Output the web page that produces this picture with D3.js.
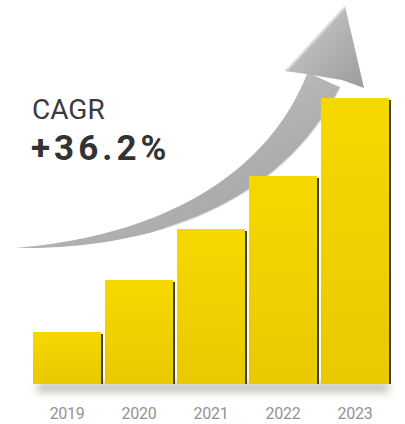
<!DOCTYPE html>
<html>
<head>
<meta charset="utf-8">
<script src="https://cdn.jsdelivr.net/npm/d3@7"></script>
<style>
  html, body { margin: 0; padding: 0; background: #fff; }
  svg { display: block; }
</style>
</head>
<body>
<div id="chart"></div>
<script>
// chart data (bar heights, relative units)
var years = ["2019", "2020", "2021", "2022", "2023"];
var values = [52, 104, 155, 208, 286];
var cagrLabel = "CAGR";
var cagrValue = "+36.2%";

var width = 405, height = 424;
var svg = d3.select("#chart").append("svg")
    .attr("width", width)
    .attr("height", height);

var x = d3.scaleBand().domain(years).range([33, 389]).paddingInner(0.055).paddingOuter(0);
var y = d3.scaleLinear().domain([0, d3.max(values)]).range([384, 98]);

var defs = svg.append("defs");

var barGrad = defs.append("linearGradient").attr("id", "barGrad")
    .attr("x1", 0).attr("y1", 0).attr("x2", 0).attr("y2", 1);
barGrad.append("stop").attr("offset", "0%").attr("stop-color", "#f6d800");
barGrad.append("stop").attr("offset", "100%").attr("stop-color", "#e9c900");

var arrowGrad = defs.append("linearGradient").attr("id", "arrowGrad")
    .attr("x1", 0).attr("y1", 0).attr("x2", 1).attr("y2", 1);
arrowGrad.append("stop").attr("offset", "0%").attr("stop-color", "#d4d4d4");
arrowGrad.append("stop").attr("offset", "55%").attr("stop-color", "#b2b2b2");
arrowGrad.append("stop").attr("offset", "100%").attr("stop-color", "#9c9c9c");

defs.append("filter").attr("id", "blur").attr("x", "-20%").attr("y", "-100%")
    .attr("width", "140%").attr("height", "300%")
  .append("feGaussianBlur").attr("stdDeviation", 4);

// arrow: shaft built along a bezier centre line, width grows toward the head
var P = [[15, 248], [140, 244], [270, 200], [324, 80]];
function bez(t, i) {
    var u = 1 - t;
    return u*u*u*P[0][i] + 3*u*u*t*P[1][i] + 3*u*t*t*P[2][i] + t*t*t*P[3][i];
}
function bezD(t, i) {
    var u = 1 - t;
    return 3*u*u*(P[1][i]-P[0][i]) + 6*u*t*(P[2][i]-P[1][i]) + 3*t*t*(P[3][i]-P[2][i]);
}
var upper = [], lower = [];
d3.range(0, 1.0001, 0.02).forEach(function(t) {
    var cx = bez(t, 0), cy = bez(t, 1);
    var dx = bezD(t, 0), dy = bezD(t, 1);
    var len = Math.sqrt(dx*dx + dy*dy);
    var nx = dy / len, ny = -dx / len;   // normal pointing up-left
    var w = 36 * t / 2;
    upper.push([cx + nx*w, cy + ny*w]);
    lower.push([cx - nx*w, cy - ny*w]);
});
var shaft = upper.concat(lower.slice().reverse());
var line = d3.line().curve(d3.curveLinearClosed);

var arrow = svg.append("g");
arrow.append("path")
    .attr("d", line(shaft))
    .attr("fill", "url(#arrowGrad)");
arrow.append("path")
    .attr("d", d3.line().curve(d3.curveBasis)(lower.slice(20)))
    .attr("fill", "none").attr("stroke", "#e6e6e6").attr("stroke-width", 1.5).attr("opacity", 0.8);
var head = [[285, 71], [345, 6], [364, 88], [342, 80], [306, 74]];
arrow.append("path")
    .attr("d", line(head))
    .attr("fill", "url(#arrowGrad)");
arrow.append("path")
    .attr("d", d3.line()([[287, 70], [345, 7]]))
    .attr("stroke", "#dcdcdc").attr("stroke-width", 2).attr("fill", "none");

// soft shadow under the bars
svg.append("rect")
    .attr("x", x(years[0]) + 4)
    .attr("y", 383)
    .attr("width", x(years[years.length-1]) + x.bandwidth() - x(years[0]) - 4)
    .attr("height", 9)
    .attr("fill", "#bdbdb2")
    .attr("filter", "url(#blur)");

// dark side faces, then bars
var bars = svg.append("g");
bars.selectAll(".back")
    .data(values)
    .enter().append("rect")
    .attr("class", "back")
    .attr("x", function(d, i) { return x(years[i]) + 2; })
    .attr("y", function(d) { return y(d) + 2; })
    .attr("width", x.bandwidth())
    .attr("height", function(d) { return y(0) - y(d) - 2; })
    .attr("fill", "#4a4300");

bars.selectAll(".bar")
    .data(values)
    .enter().append("rect")
    .attr("class", "bar")
    .attr("x", function(d, i) { return x(years[i]); })
    .attr("y", function(d) { return y(d); })
    .attr("width", x.bandwidth())
    .attr("height", function(d) { return y(0) - y(d); })
    .attr("fill", "url(#barGrad)");

// year labels
var xAxis = d3.axisBottom(x).tickSize(0).tickPadding(0);
var axisG = svg.append("g")
    .attr("transform", "translate(0,408)")
    .call(xAxis);
axisG.select(".domain").remove();
axisG.selectAll("text")
    .attr("fill", "#939393")
    .style("font-family", "Roboto, 'DejaVu Sans', sans-serif")
    .style("font-size", "16px")
    .style("letter-spacing", "-0.3px");

// CAGR annotation
svg.append("text")
    .attr("x", 32).attr("y", 119)
    .attr("fill", "#3c3c3c")
    .style("font-family", "Roboto, sans-serif")
    .style("font-size", "28px")
    .text(cagrLabel);
svg.append("text")
    .attr("x", 31).attr("y", 159.5)
    .attr("fill", "#333")
    .style("font-family", "Roboto, sans-serif")
    .style("font-weight", "bold")
    .style("font-size", "35px")
    .style("letter-spacing", "4px")
    .text(cagrValue);
</script>
</body>
</html>
